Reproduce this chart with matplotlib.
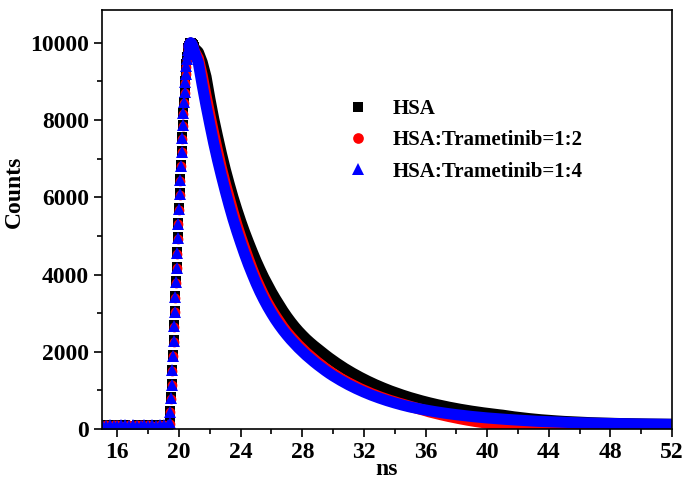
import numpy as np
import matplotlib
matplotlib.use('Agg')
import matplotlib.pyplot as plt
from matplotlib.ticker import MultipleLocator

plt.rcParams['font.family'] = ['Liberation Serif', 'DejaVu Serif']
plt.rcParams['font.weight'] = 'bold'

# time channels (ns): flat baseline, fine steps on the rising edge, then the decay
ns = np.concatenate([
    np.arange(15.0, 19.3, 0.25),
    np.arange(19.40, 20.97, 0.04),
    np.arange(21.0, 52.01, 0.25),
])

# HSA
hsa = [
    91, 89, 94, 90, 92, 88, 95, 90, 89, 93, 91, 87, 94, 90, 92, 89, 95, 90,
    170, 470, 820, 1170, 1540, 1920, 2300, 2680, 3060, 3440, 3820, 4200, 4580,
    4960, 5340, 5720, 6100, 6470, 6840, 7200, 7550, 7880, 8190, 8480, 8750,
    9000, 9230, 9440, 9620, 9760, 9860, 9930, 9970, 9990, 9990, 9980,
    9960, 9940, 9910, 9880,
    9860, 9760, 9500, 9120, 8550, 8030, 7570, 7130, 6720, 6350, 6000, 5680,
    5380, 5100, 4840, 4590, 4350, 4130, 3920, 3730, 3545, 3375, 3215,
    3055, 2910, 2775, 2650, 2535, 2430, 2330, 2240, 2155, 2075, 1996, 1917,
    1841, 1769, 1700, 1633, 1569, 1508, 1450, 1394, 1340, 1288, 1239, 1191,
    1146, 1102, 1061, 1021, 982, 946, 910, 877, 844, 813,
    784, 755, 728, 702, 677, 653, 630, 608, 587, 566, 547, 528, 510, 493, 477,
    461, 446, 432, 418, 405, 392, 380, 368, 357, 342, 327, 313, 301, 289, 277,
    267, 257, 247, 238, 230, 222, 215, 208, 201, 195, 190, 184, 179, 174, 170,
    166, 162, 158, 155, 152, 149, 146, 143, 141, 139, 137, 135, 133, 131, 130,
    128, 127, 126, 125, 124, 123, 122, 121,
]

# HSA:Trametinib = 1:2
tr12 = [
    90, 94, 89, 92, 96, 88, 90, 93, 87, 91, 95, 89, 92, 90, 88, 94, 91, 89,
    130, 430, 780, 1130, 1500, 1880, 2260, 2640, 3020, 3400, 3780, 4160, 4540,
    4920, 5300, 5680, 6060, 6430, 6800, 7160, 7510, 7840, 8150, 8440, 8710,
    8960, 9180, 9380, 9550, 9700, 9810, 9890, 9950, 9980, 9990, 9980, 9950,
    9910, 9870, 9820,
    9780, 9600, 9160, 8630, 8130, 7650, 7190, 6750, 6360, 5990, 5630, 5290,
    4980, 4690, 4410, 4140, 3890, 3670, 3460, 3265, 3095, 2935, 2785,
    2640, 2510, 2393, 2285, 2175, 2080, 1980, 1895, 1810, 1725, 1650, 1570,
    1500, 1430, 1370, 1305, 1250, 1195, 1144, 1091, 1045, 1001, 954, 914, 877,
    836, 802, 769, 733, 704, 671, 644, 614, 585,
    558, 530, 502, 474, 443, 418, 394, 370, 347, 325, 304, 284, 264, 245, 227,
    210, 194, 179, 164, 150, 137, 125, 113, 102, 92, 83, 75, 67, 60, 54,
    48, 43, 39, 35, 32, 29, 27, 25, 23, 22, 21, 20, 19, 18, 18, 17, 17, 16,
    16, 16, 15, 15, 15, 15, 14, 14, 14, 14, 14, 13, 13, 13, 13, 13, 13, 12,
    12, 12,
]

# HSA:Trametinib = 1:4
tr14 = [
    92, 88, 95, 90, 87, 93, 91, 89, 94, 90, 88, 92, 90, 95, 89, 91, 93, 96,
    150, 450, 800, 1150, 1520, 1900, 2280, 2660, 3040, 3420, 3800, 4180, 4560,
    4940, 5320, 5700, 6080, 6450, 6820, 7180, 7530, 7860, 8170, 8460, 8730,
    8980, 9200, 9400, 9570, 9710, 9820, 9900, 9960, 9990, 10000, 9990, 9960,
    9920, 9870, 9810,
    9760, 9480, 8910, 8380, 7880, 7400, 6960, 6550, 6160, 5790, 5440, 5120,
    4820, 4530, 4260, 4010, 3770, 3550, 3350, 3165, 2995, 2835, 2690,
    2555, 2430, 2313, 2205, 2100, 2005, 1910, 1825, 1740, 1660, 1585, 1510,
    1440, 1375, 1315, 1255, 1200, 1145, 1094, 1046, 1000, 956, 914, 874, 837,
    801, 767, 734, 703, 674, 646, 619, 594, 570,
    549, 528, 509, 491, 473, 456, 440, 425, 410, 396, 383, 370, 358, 346, 335,
    324, 314, 305, 295, 286, 278, 270, 262, 255, 248, 241, 235, 229, 223, 217,
    210, 205, 200, 196, 192, 188, 184, 180, 176, 173, 169, 166, 163, 161, 158,
    155, 153, 150, 148, 146, 144, 142, 140, 138, 136, 135, 133, 132, 130, 129,
    128, 126, 125, 124, 123, 122, 121, 120,
]

labels = ['HSA', 'HSA:Trametinib=1:2', 'HSA:Trametinib=1:4']
colors = ['black', 'red', 'blue']
markers = ['s', 'o', '^']
sizes = [6.5, 7, 8]

fig = plt.figure(figsize=(6.88, 4.94), dpi=100)
ax = fig.add_axes([0.1483, 0.1316, 0.8285, 0.8482])

# the decay is sampled so densely in the original that its markers merge
# into a solid band, so draw it as a thick line; baseline and rise as markers
start = np.searchsorted(ns, 20.6)
stop = np.searchsorted(ns, 21.0)
for y, c, m, ms, lab in zip([hsa, tr12, tr14], colors, markers, sizes, labels):
    y = np.asarray(y)
    ax.plot(ns[start:], y[start:], '-', color=c, lw=8,
            solid_joinstyle='round', solid_capstyle='round')
    ax.plot(ns[:stop], y[:stop], m, color=c, ms=ms, mew=0, label=lab)

ax.set_xlim(15, 52)
ax.set_ylim(0, 10850)
ax.set_xticks(np.arange(16, 53, 4))
ax.xaxis.set_minor_locator(MultipleLocator(2))
ax.yaxis.set_major_locator(MultipleLocator(2000))
ax.yaxis.set_minor_locator(MultipleLocator(1000))
ax.tick_params(which='major', direction='out', length=6, width=1.2,
               labelsize=17, top=False, right=False)
ax.tick_params(which='minor', direction='out', length=3.5, width=1.2,
               top=False, right=False)
for s in ax.spines.values():
    s.set_linewidth(1.2)

ax.set_xlabel('ns', fontsize=17, fontweight='bold', labelpad=-3)
ax.set_ylabel('Counts', fontsize=17, fontweight='bold')
ax.yaxis.set_label_coords(-0.135, 0.566)

ax.legend(loc='upper left', bbox_to_anchor=(0.431, 0.788), frameon=False,
          fontsize=15, handlelength=1.0, handletextpad=1.15,
          labelspacing=0.55, borderpad=0, borderaxespad=0, markerscale=1.1)

fig.savefig('out.png', dpi=100)
